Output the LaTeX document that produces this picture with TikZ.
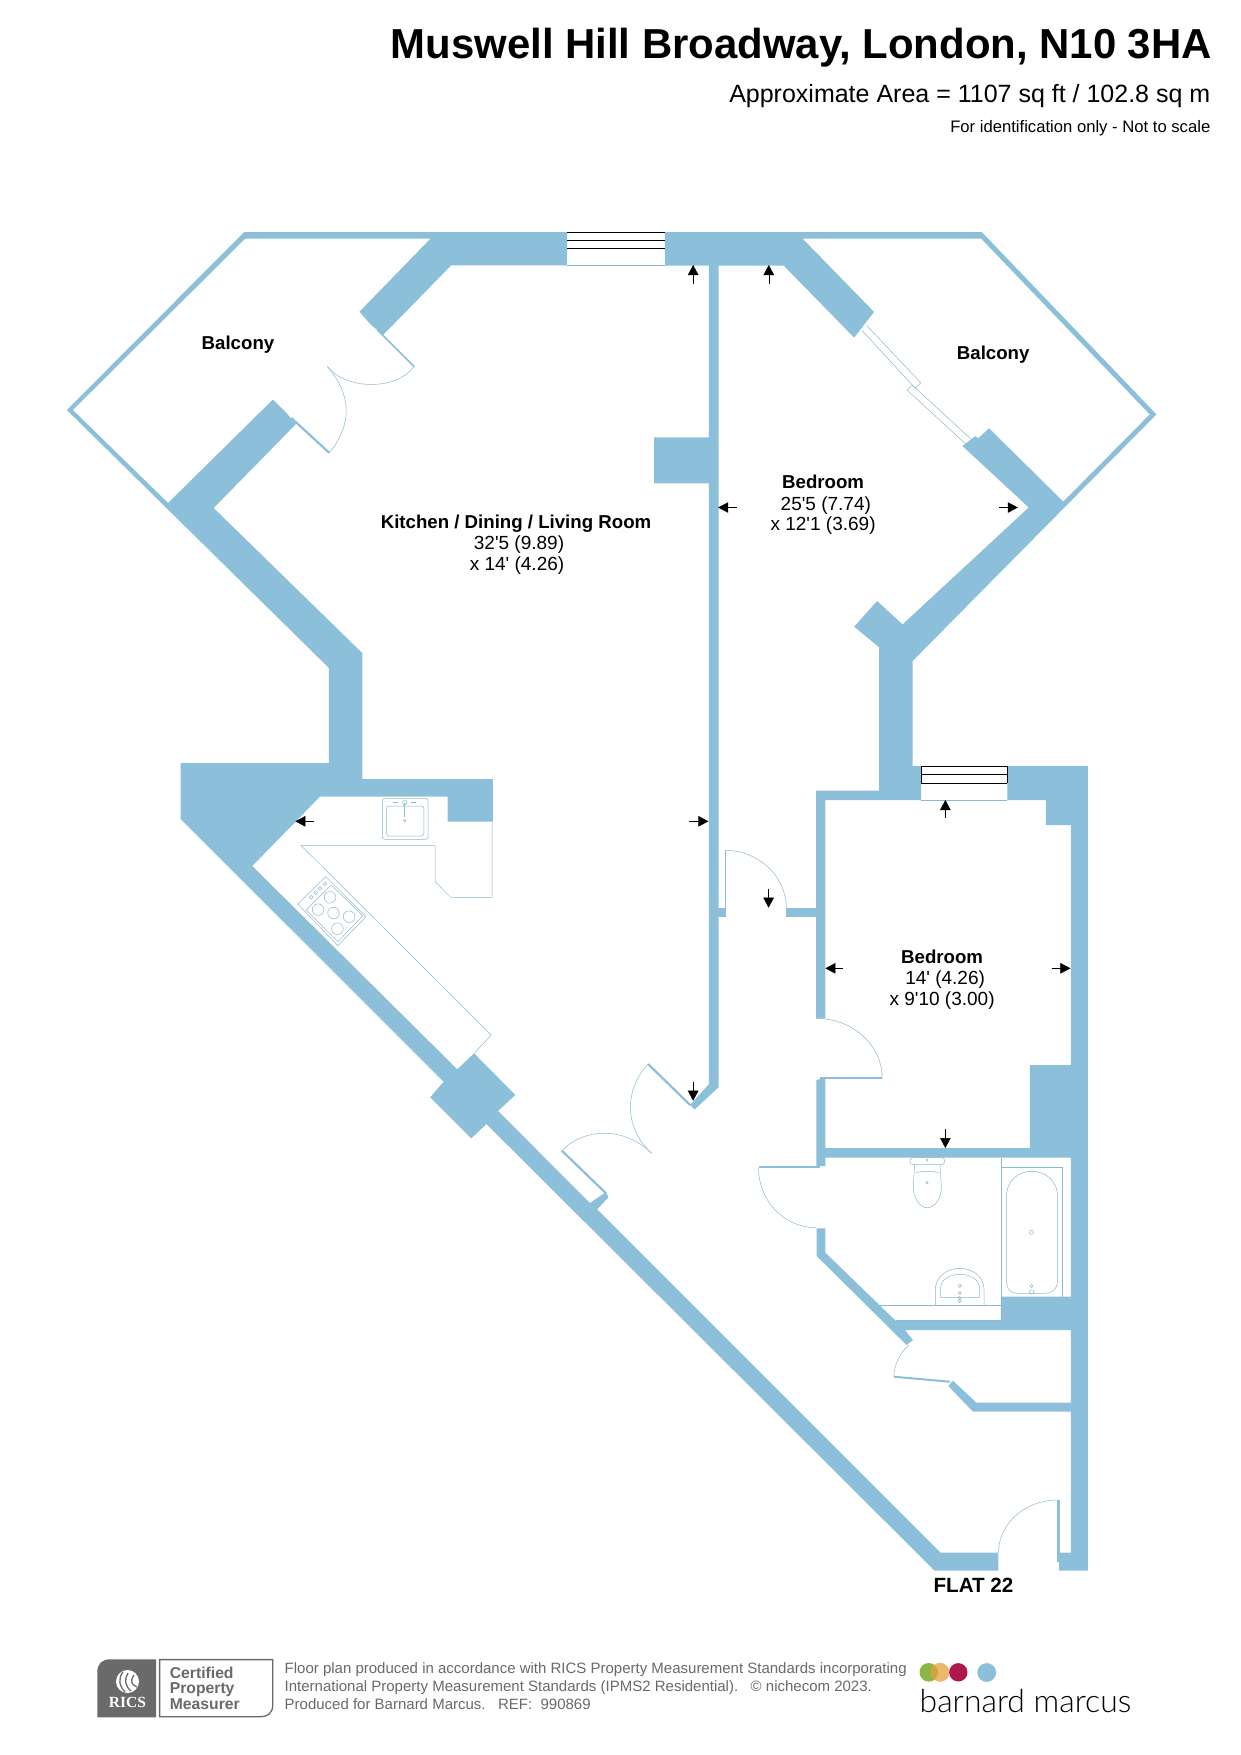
\documentclass[tikz,border=0pt]{standalone}
\usepackage{fontspec}
\usetikzlibrary{arrows.meta}
\setmainfont{Liberation Sans}
\newfontfamily\bmfont{Lato Light}
\newfontfamily\ricsfont{Liberation Serif}
\newcommand{\ft}{\textquotesingle}
\definecolor{wall}{HTML}{8BBFDA}
\definecolor{thinline}{HTML}{8DB9CF}
\definecolor{foot}{HTML}{6A6A6A}
\tikzset{
  wallfill/.style={fill=wall,draw=none},
  fine/.style={draw=thinline,line width=0.5pt},
  panel/.style={draw=wall,line width=2.2pt},
  glass/.style={draw=black,line width=1pt},
  dimarrow/.style={draw=black,line width=0.5pt,-{Triangle[length=10pt,width=10.5pt]}},
  lbl/.style={inner sep=0pt,anchor=base,font=\fontsize{19}{21}\selectfont},
  lblb/.style={inner sep=0pt,anchor=base,font=\fontsize{18.65}{21}\selectfont\bfseries},
  ftxt/.style={inner sep=0pt,anchor=base west,text=foot,font=\fontsize{15}{18}\selectfont},
  cert/.style={inner sep=0pt,anchor=base west,text=foot,font=\fontsize{15.7}{18}\selectfont\bfseries},
}
\begin{document}
\begin{tikzpicture}[x=1pt,y=-1pt]
\useasboundingbox (0,0) rectangle (1241,1755);
\fill[white] (0,0) rectangle (1241,1755);
% header
\node[inner sep=0pt,anchor=base east,font=\fontsize{41.9}{44}\selectfont\bfseries] (title) at (1212,59) {Muswell Hill Broadway, London, N10 3HA};
\node[inner sep=0pt,anchor=base east,font=\fontsize{25}{28}\selectfont] (area) at (1210.5,103) {Approximate Area = 1107 sq ft / 102.8 sq m};
\node[inner sep=0pt,anchor=base east,font=\fontsize{16.65}{20}\selectfont] (ident) at (1210.5,132.7) {For identification only - Not to scale};
\begin{scope}[x=1.002pt,xshift=-1.24pt]
% walls
\fill[wallfill] (245,232) -- (567,232) -- (567,265.4) -- (451.5,265.4) -- (383.5,335) -- (371,324.3) -- (360,311.7) -- (431,238.5) -- (246,238.5) -- (74,410) -- (169,503) -- (273.6,399.5) -- (285.5,411.3) -- (296.6,424) -- (214.5,508) -- (363,653.3) -- (363,779) -- (493,779) -- (493,821.7) -- (448,821.7) -- (448,796.7) -- (320.5,796.7) -- (253,866) -- (457.6,1069.3) -- (474.4,1053.3) -- (515.5,1095) -- (498.3,1111) -- (590,1203) -- (606,1192) -- (608.5,1197.3) -- (597.2,1209.3) -- (940,1552.7) -- (997.7,1552.7) -- (997.7,1570.7) -- (934,1570.7) -- (486.7,1124) -- (471.6,1138.3) -- (430.6,1097.3) -- (444,1081.7) -- (181.5,819) -- (181.5,763) -- (329.5,763) -- (329.5,668) -- (68,410) -- cycle;
\fill[wallfill] (665,232) -- (981,232) -- (1155.4,414.4) -- (912,661) -- (912,766) -- (920.5,766) -- (920.5,800) -- (825,800) -- (825,1018.3) -- (815.7,1018.3) -- (815.7,790.7) -- (878.6,790.7) -- (878.6,647.3) -- (853.7,626.7) -- (876.6,601) -- (902,624.4) -- (1027.9,507.5) -- (961.8,446) -- (974.5,436.2) -- (977.6,438.2) -- (988.3,428.3) -- (1062.4,501.6) -- (1148.7,414.4) -- (980.4,238.6) -- (802.2,238.6) -- (873.5,311.9) -- (853.7,337.6) -- (783.2,265.5) -- (665,265.5) -- cycle;
\fill[wallfill] (708.8,265) -- (718.3,265) -- (718.3,1087.3) -- (694.4,1109.5) -- (690,1105) -- (708.8,1084) -- (708.8,483.4) -- (654,483.4) -- (654,437.4) -- (708.8,437.4) -- cycle;
\fill[wallfill] (718,908) rectangle (726,917);
\fill[wallfill] (724.3,850) rectangle (726,911);
\fill[wallfill] (786,908.3) rectangle (816,916.7);
\fill[wallfill] (1006.7,766) -- (1087,766) -- (1087,1570.7) -- (1058.3,1570.7) -- (1058.3,1561) -- (1059,1552.7) -- (1070,1552.7) -- (1070,1411.7) -- (972.3,1411.7) -- (947.7,1386) -- (952.3,1380.7) -- (975.7,1402.7) -- (1070,1402.7) -- (1070,1330) -- (904.3,1330) -- (912.3,1340) -- (906,1345) -- (816.3,1256) -- (816.3,1228.3) -- (825,1228.3) -- (825,1252.7) -- (895,1320.7) -- (1000,1320.7) -- (1000,1296.7) -- (1070,1296.7) -- (1070,1157.7) -- (825,1157.7) -- (825,1166) -- (816,1166) -- (816,1080) -- (825,1078) -- (825,1148) -- (1029,1148) -- (1029,1065) -- (1070,1065) -- (1070,825) -- (1045,825) -- (1045,800) -- (1006.7,800) -- cycle;
% door leaves
\draw[panel] (292,418) -- (329.8,452.8);
\draw[draw=wall,line width=1.6pt] (378,330) -- (414.4,366.6);
\draw[panel] (648,1064) -- (690,1105);
\draw[panel] (562,1150.7) -- (606,1193.3);
\draw[draw=wall,line width=2pt] (820,1078.3) -- (881.7,1078.3);
\draw[draw=wall,line width=2pt] (758.3,1166.5) -- (820,1166.5);
\draw[draw=wall,line width=2pt] (893.3,1376.7) -- (949.3,1381.7);
\fill[wallfill] (1056,1500) rectangle (1059,1561.7);
% door swings
\draw[fine] (414.4,366.6) .. controls (397,390.4) and (347,390.4) .. (328,366.6);
\draw[fine] (329.8,452.8) .. controls (352.7,425) and (352.7,395) .. (328,366.6);
\draw[fine] (724.7,850.3) .. controls (758,850.3) and (786,876) .. (786,908.3);
\draw[fine] (815.7,1018.3) .. controls (852,1018.3) and (881.7,1045) .. (881.7,1078.3);
\draw[fine] (758.3,1168) .. controls (758.3,1201) and (784,1227.7) .. (815.7,1227.7);
\draw[fine] (1056.7,1500) .. controls (1024,1500) and (997.7,1524) .. (997.7,1552.7);
\draw[fine] (908.3,1345) .. controls (900,1352) and (893.3,1365) .. (893.3,1376.7);
\draw[fine] (562,1150.7) .. controls (585,1127) and (625,1127) .. (651.6,1153.3);
\draw[fine] (648,1064) .. controls (624,1090) and (624,1128) .. (651.6,1153.3);
% windows
\draw[glass] (567,232) -- (665,232) (567,240.5) -- (665,240.5) (567,248.8) -- (665,248.8);
\draw[fine] (567,265.4) -- (665,265.4);
\draw[glass] (920.5,766) -- (1006.7,766) (920.5,774.3) -- (1006.7,774.3) (920.5,783.3) -- (1006.7,783.3) (920.5,766) -- (920.5,783.3) (1006.7,766) -- (1006.7,783.3);
\draw[fine] (920.5,800) -- (1006.7,800);
% sliding door
\draw[fine] (866,325.3) -- (920.2,382.8) -- (914.6,388.3) -- (861.6,330.5);
\draw[fine] (906.3,389.9) -- (911.9,385.3) -- (971.3,440) (906.3,389.9) -- (965.7,444.6);
% kitchen units
\draw[fine] (301.5,845.3) -- (435.5,845.3) -- (435.5,881.7) -- (451,897.3) -- (492.3,897.3) -- (492.3,821.7);
\draw[fine] (301.5,845.3) -- (491.6,1035) -- (474.4,1053.3);
\draw[fine,rounded corners=2.5pt] (382.8,798.3) rectangle (428.4,839.3);
\draw[fine,rounded corners=2.5pt] (387,806) rectangle (424.2,836);
\draw[draw=wall,line width=1.2pt] (405.2,802.7) -- (405.2,816.7);
\draw[fine] (405.2,802.7) circle (2.2) (405.2,820.7) circle (1.2);
\draw[fine] (393.6,802.7) -- (398.6,802.7) (411.6,802.7) -- (416.6,802.7);
% hob
\draw[fine] (326.4,876.7) -- (366.4,916.7) -- (338.4,945.7) -- (298.4,904) -- cycle;
\draw[fine] (331.7,885) -- (363.3,915.7) -- (338.4,941.7) -- (306.8,910) -- cycle;
\draw[fine] (330.6,897.3) circle (5.8) (318.7,909.7) circle (5.8) (334.1,913) circle (5.8) (349.6,916.7) circle (5.8) (338,928.7) circle (5.8);
\draw[fine] (325.4,883.7) circle (1.9) (320.5,888.3) circle (1.9) (316.3,892.7) circle (1.9) (311.7,897.3) circle (1.9);
% bathroom
\draw[fine] (1000,1157.7) -- (1000,1296.7);
\draw[fine] (1000,1167.3) -- (1061.7,1167.3) -- (1061.7,1296.7);
\draw[fine] (1005.7,1197) .. controls (1005.7,1180) and (1018,1171.3) .. (1031,1171.3) .. controls (1044,1171.3) and (1056.7,1180) .. (1056.7,1197) -- (1056.7,1280) .. controls (1056.7,1290) and (1050,1293.3) .. (1044,1293.3) -- (1018,1293.3) .. controls (1010,1293.3) and (1005.7,1290) .. (1005.7,1280) -- cycle;
\draw[fine] (1030.7,1232.3) circle (2) (1030.7,1286) circle (1.6) (1030.7,1292) circle (2.2);
% toilet
\draw[fine,rounded corners=3pt] (909.3,1157.7) rectangle (944,1164.5);
\draw[fine] (914,1164.5) -- (912.7,1186.7) .. controls (912.7,1198) and (919,1207.7) .. (926.7,1207.7) .. controls (934.4,1207.7) and (940.7,1198) .. (940.7,1186.7) -- (939.3,1164.5);
\draw[fine] (915,1172.7) .. controls (919,1171) and (934,1171) .. (938.3,1172.7);
\draw[fine] (926.3,1182.7) circle (1.3) (926.3,1160) circle (0.8);
\draw[fine] (878.3,1305.3) -- (1000,1305.3);
\draw[fine] (895,1320.7) -- (1000,1320.7);
\draw[fine] (1000,1296.7) -- (1000,1320.7);
% basin
\draw[fine] (934.7,1305.3) -- (934.7,1290) .. controls (934.7,1275) and (948,1268.3) .. (959,1268.3) .. controls (970,1268.3) and (983.3,1275) .. (983.3,1290) -- (983.3,1305.3);
\draw[fine] (940,1297.7) -- (940,1288) .. controls (940,1279) and (950,1274.3) .. (959.5,1274.3) .. controls (969,1274.3) and (978.7,1279) .. (978.7,1288) -- (978.7,1297.7) -- cycle;
\draw[fine] (959,1285.7) circle (1.8) (959,1293) circle (1.5) (959,1298) circle (1.5) (959,1301) circle (1.5);
% dimension arrows
\draw[dimarrow] (693,283.8) -- (693,265);
\draw[dimarrow] (768.5,283.8) -- (768.5,265);
\draw[dimarrow] (736.3,507.5) -- (718,507.5);
\draw[dimarrow] (998,507.5) -- (1017,507.5);
\draw[dimarrow] (315,821.3) -- (296,821.3);
\draw[dimarrow] (689,821.3) -- (708.2,821.3);
\draw[dimarrow] (693,1081.7) -- (693,1100.7);
\draw[dimarrow] (944.7,818.3) -- (944.7,800);
\draw[dimarrow] (843,968.3) -- (825,968.3);
\draw[dimarrow] (1050.7,968.3) -- (1069.5,968.3);
\draw[dimarrow] (944.7,1129.3) -- (944.7,1148);
\draw[dimarrow] (768.3,889.3) -- (768.3,907.7);
\end{scope}
% labels
\node[lblb] (balL) at (238,349) {Balcony};
\node[lblb] (balR) at (993.2,359.4) {Balcony};
\node[lblb] (kit) at (516,528) {Kitchen / Dining / Living Room};
\node[lbl] (kit2) at (519,549.7) {32\ft5 (9.89)};
\node[lbl] (kit3) at (517,570) {x 14\ft\ (4.26)};
\node[lblb] (bed) at (823.1,488) {Bedroom};
\node[lbl] (bed2) at (825.8,510) {25\ft5 (7.74)};
\node[lbl] (bed3) at (823.1,530.5) {x 12\ft1 (3.69)};
\node[lblb] (bedb) at (942.1,963.7) {Bedroom};
\node[lbl] (bedb2) at (945.1,984.3) {14\ft\ (4.26)};
\node[lbl] (bedb3) at (942.1,1005) {x 9\ft10 (3.00)};
\node[inner sep=0pt,anchor=base,font=\fontsize{20.6}{22}\selectfont\bfseries] (flat) at (973.5,1592.7) {FLAT 22};
% footer
\fill[foot] (97.3,1717.3) -- (97.3,1672) .. controls (97.3,1664) and (102,1659.3) .. (110,1659.3) -- (156,1659.3) -- (156,1717.3) -- cycle;
\fill[white] (127.5,1681.5) circle (11.5);
\draw[foot,line width=1.3pt] (123,1672) .. controls (118,1678) and (119,1686) .. (125,1692);
\draw[foot,line width=1.3pt] (128,1673) .. controls (124,1679) and (125,1686) .. (131,1691);
\draw[foot,line width=1.3pt] (134,1675) .. controls (130,1680) and (131,1685) .. (137,1687);
\node[inner sep=0pt,anchor=base,text=white,font=\fontsize{15.5}{18}\selectfont\ricsfont\bfseries] (rics) at (127.5,1707.3) {RICS};
\draw[foot,line width=1.3pt] (159.6,1659.6) -- (272.7,1659.6) -- (272.7,1705) .. controls (272.7,1713) and (268,1716.7) .. (260,1716.7) -- (159.6,1716.7) -- cycle;
\node[cert] (c1) at (169.7,1678.5) {Certified};
\node[cert] (c2) at (169.7,1693.5) {Property};
\node[cert] (c3) at (169.7,1709.3) {Measurer};
\node[ftxt] (f1) at (284.5,1673.5) {Floor plan produced in accordance with RICS Property Measurement Standards incorporating};
\node[ftxt] (f2) at (284.5,1691.5) {International Property Measurement Standards (IPMS2 Residential).\ \ \ © nichecom 2023.};
\node[ftxt] (f3) at (284.5,1709) {Produced for Barnard Marcus.\ \ \ REF:\ \ 990869};
\fill[fill={rgb,255:red,141;green,182;blue,69}] (928.8,1672.3) circle (9.3);
\fill[fill={rgb,255:red,232;green,160;blue,60},fill opacity=0.75] (940,1672.3) circle (9.5);
\fill[fill={rgb,255:red,176;green,23;blue,79}] (958.3,1672.3) circle (9.2);
\fill[fill=wall] (986.7,1672.5) circle (9.4);
\node[inner sep=0pt,anchor=base west,text=black,font=\fontsize{31.9}{34}\selectfont\bmfont] (bm) at (919.5,1712) {barnard marcus};
\end{tikzpicture}
\end{document}
